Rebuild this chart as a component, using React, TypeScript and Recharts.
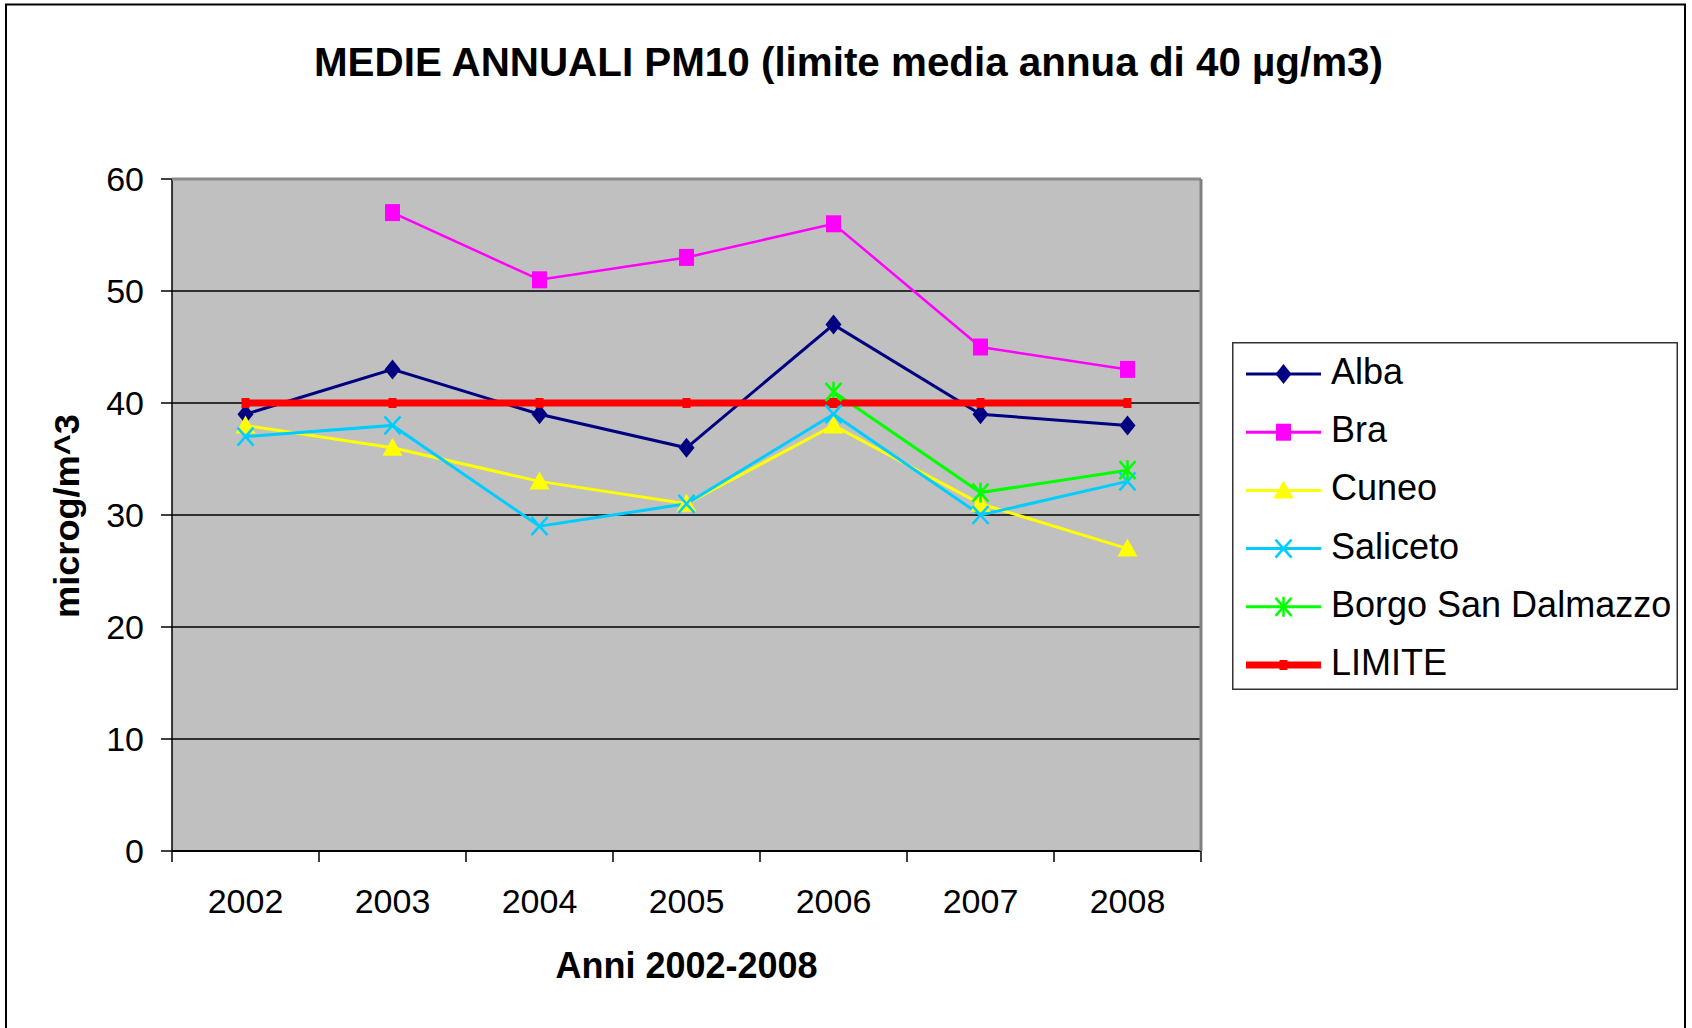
import React from "react";
import {
  CartesianGrid, Legend, Line, LineChart, XAxis, YAxis,
} from "recharts";

const years = ["2002", "2003", "2004", "2005", "2006", "2007", "2008"];
const alba = [39, 43, 39, 36, 47, 39, 38];
const bra = [null, 57, 51, 53, 56, 45, 43];
const cuneo = [38, 36, 33, 31, 38, 31, 27];
const saliceto = [37, 38, 29, 31, 39, 30, 33];
const borgo = [null, null, null, null, 41, 32, 34];
const limite = [40, 40, 40, 40, 40, 40, 40];
const yTicks = [0, 10, 20, 30, 40, 50, 60];

const W = 1692;
const H = 1028;
const PLOT_L = 172;
const PLOT_T = 179;
const PLOT_R = 1201;
const PLOT_B = 851;
const BAND = (PLOT_R - PLOT_L) / years.length;
const FONT = '"Liberation Sans", Arial, sans-serif';

const data = years.map((year, i) => ({
  year,
  alba: alba[i],
  bra: bra[i],
  cuneo: cuneo[i],
  saliceto: saliceto[i],
  borgo: borgo[i],
  limite: limite[i],
}));

type Shape = "diamond" | "square" | "triangle" | "x" | "star" | "dash";

const series: { key: string; name: string; color: string; width: number; shape: Shape }[] = [
  { key: "alba", name: "Alba", color: "#000080", width: 3, shape: "diamond" },
  { key: "bra", name: "Bra", color: "#ff00ff", width: 2.5, shape: "square" },
  { key: "cuneo", name: "Cuneo", color: "#ffff00", width: 3, shape: "triangle" },
  { key: "saliceto", name: "Saliceto", color: "#00ccff", width: 3, shape: "x" },
  { key: "borgo", name: "Borgo San Dalmazzo", color: "#00ff00", width: 3, shape: "star" },
  { key: "limite", name: "LIMITE", color: "#ff0000", width: 7, shape: "dash" },
];

function marker(shape: Shape, cx: number, cy: number, color: string) {
  switch (shape) {
    case "diamond":
      return <polygon points={`${cx},${cy - 10} ${cx + 8},${cy} ${cx},${cy + 10} ${cx - 8},${cy}`} fill={color} />;
    case "square":
      return <rect x={cx - 7.5} y={cy - 8.5} width={15} height={17} fill={color} />;
    case "triangle":
      return <polygon points={`${cx},${cy - 10} ${cx + 10},${cy + 8} ${cx - 10},${cy + 8}`} fill={color} />;
    case "x":
      return (
        <g stroke={color} strokeWidth={2.5}>
          <line x1={cx - 8} y1={cy - 9} x2={cx + 8} y2={cy + 9} />
          <line x1={cx - 8} y1={cy + 9} x2={cx + 8} y2={cy - 9} />
        </g>
      );
    case "star":
      return (
        <g stroke={color} strokeWidth={2.5}>
          <line x1={cx - 8} y1={cy - 9} x2={cx + 8} y2={cy + 9} />
          <line x1={cx - 8} y1={cy + 9} x2={cx + 8} y2={cy - 9} />
          <line x1={cx} y1={cy - 10} x2={cx} y2={cy + 10} />
        </g>
      );
    default:
      return <rect x={cx - 4} y={cy - 5} width={8} height={10} fill={color} />;
  }
}

function makeDot(shape: Shape, color: string) {
  return (p: any) => {
    const k = `${shape}-${p.index}`;
    if (p.cx == null || p.cy == null || p.value == null) return <g key={k} />;
    return <g key={k}>{marker(shape, p.cx, p.cy, color)}</g>;
  };
}

function XTick(props: any) {
  const { x, payload, index } = props;
  const left = x - BAND / 2;
  const right = x + BAND / 2;
  return (
    <g>
      <line x1={left} x2={left} y1={PLOT_B} y2={PLOT_B + 11} stroke="#000" strokeWidth={1.5} />
      {index === years.length - 1 && (
        <line x1={right} x2={right} y1={PLOT_B} y2={PLOT_B + 11} stroke="#000" strokeWidth={1.5} />
      )}
      <text x={x} y={PLOT_B + 62} textAnchor="middle" fontSize={34} fill="#000" fontFamily={FONT}>
        {payload.value}
      </text>
    </g>
  );
}

function LegendBox() {
  return (
    <svg width={446} height={348} style={{ display: "block" }}>
      <rect x={0.75} y={0.75} width={444.5} height={346.5} fill="#fff" stroke="#333" strokeWidth={1.5} />
      {series.map((s, i) => {
        const cy = 32 + i * 58.2;
        return (
          <g key={s.key}>
            <line x1={14} x2={89} y1={cy} y2={cy} stroke={s.color} strokeWidth={s.shape === "dash" ? 7 : 3} />
            {marker(s.shape, 51.5, cy, s.color)}
            <text x={99} y={cy + 10} fontSize={36} fill="#000" fontFamily={FONT}>
              {s.name}
            </text>
          </g>
        );
      })}
    </svg>
  );
}

export default function App() {
  return (
    <div style={{ position: "absolute", left: 0, top: 0, width: W, height: H, overflow: "hidden", background: "#fff" }}>
      <LineChart
        width={W}
        height={H}
        data={data}
        margin={{ top: PLOT_T, right: W - PLOT_R, bottom: 0, left: 0 }}
      >
        <CartesianGrid vertical={false} fill="#c0c0c0" fillOpacity={1} stroke="#000" strokeWidth={1.3} />
        <XAxis
          dataKey="year"
          height={H - PLOT_B}
          padding={{ left: BAND / 2, right: BAND / 2 }}
          tickLine={false}
          axisLine={{ stroke: "#000", strokeWidth: 2 }}
          tick={<XTick />}
          interval={0}
        />
        <YAxis
          width={PLOT_L}
          domain={[0, 60]}
          ticks={yTicks}
          interval={0}
          tickSize={11}
          tickMargin={17}
          axisLine={{ stroke: "#000", strokeWidth: 1.5 }}
          tickLine={{ stroke: "#000", strokeWidth: 1.5 }}
          tick={{ fontSize: 34, fill: "#000", fontFamily: FONT }}
        />
        <Legend
          layout="horizontal"
          align="center"
          verticalAlign="middle"
          content={() => <LegendBox />}
          wrapperStyle={{ position: "absolute", left: 1232, top: 342, width: 446, height: 348 }}
        />
        {series.map((s) => (
          <Line
            key={s.key}
            type="linear"
            dataKey={s.key}
            name={s.name}
            stroke={s.color}
            strokeWidth={s.width}
            dot={makeDot(s.shape, s.color)}
            activeDot={false}
            isAnimationActive={false}
          />
        ))}
      </LineChart>
      <svg
        width={W}
        height={H}
        style={{ position: "absolute", left: 0, top: 0, pointerEvents: "none" }}
      >
        <line x1={6} x2={6} y1={4} y2={H} stroke="#000" strokeWidth={2} />
        <line x1={5} x2={1686} y1={4.5} y2={4.5} stroke="#000" strokeWidth={2} />
        <line x1={1685} x2={1685} y1={4} y2={H} stroke="#000" strokeWidth={2} />
        <line x1={PLOT_L} x2={PLOT_R} y1={PLOT_T} y2={PLOT_T} stroke="#8c8c8c" strokeWidth={3} />
        <line x1={PLOT_R} x2={PLOT_R} y1={PLOT_T} y2={PLOT_B} stroke="#808080" strokeWidth={3} />
        <text
          x={848.5}
          y={76}
          textAnchor="middle"
          fontSize={41}
          fontWeight="bold"
          fontFamily={FONT}
          textLength={1069}
          lengthAdjust="spacingAndGlyphs"
          fill="#000"
        >
          MEDIE ANNUALI PM10 (limite media annua di 40 µg/m3)
        </text>
        <text
          x={(PLOT_L + PLOT_R) / 2}
          y={978}
          textAnchor="middle"
          fontSize={36}
          fontWeight="bold"
          fontFamily={FONT}
          fill="#000"
        >
          Anni 2002-2008
        </text>
        <text
          x={0}
          y={0}
          transform={`translate(79, 516) rotate(-90)`}
          textAnchor="middle"
          fontSize={35}
          fontWeight="bold"
          fontFamily={FONT}
          textLength={204}
          lengthAdjust="spacingAndGlyphs"
          fill="#000"
        >
          microg/m^3
        </text>
      </svg>
    </div>
  );
}
